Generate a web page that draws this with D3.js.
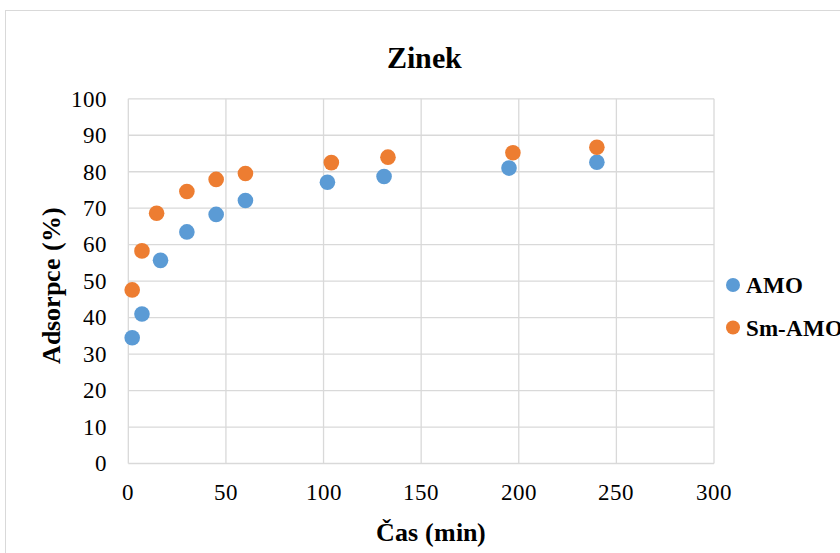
<!DOCTYPE html>
<html><head><meta charset="utf-8"><script src="https://cdn.jsdelivr.net/npm/d3@7"></script>
<style>
  @font-face { font-family: "ChartSerif"; src: local("Liberation Serif"), local("LiberationSerif"); font-weight: normal; }
  @font-face { font-family: "ChartSerif"; src: local("Liberation Serif Bold"), local("LiberationSerif-Bold"); font-weight: bold; }
</style>
</head>
<body style="margin:0">
<svg width="840" height="553"></svg>
<script>
// data
let seriesNames = ["AMO", "Sm-AMO"];
let seriesColors = ["#5B9BD5", "#ED7D31"];
let amoTime = [2, 7, 16.5, 30, 45, 60, 102, 131, 195, 240];
let amoValue = [34.5, 41.0, 55.7, 63.5, 68.3, 72.1, 77.1, 78.7, 81.0, 82.6];
let smTime = [2, 7, 14.5, 30, 45, 60, 104, 133, 197, 240];
let smValue = [47.6, 58.3, 68.6, 74.6, 77.9, 79.5, 82.5, 84.0, 85.2, 86.7];
let xTicks = [0, 50, 100, 150, 200, 250, 300];
let yTicks = [0, 10, 20, 30, 40, 50, 60, 70, 80, 90, 100];

const fam = "ChartSerif, 'Liberation Serif', serif";

var svg = d3.select("svg");

// outer chart border (runs off the right/bottom edges)
svg.append("rect")
    .attr("x", 5.5).attr("y", 10.5)
    .attr("width", 860).attr("height", 580)
    .attr("fill", "none")
    .attr("stroke", "#d9d9d9");

let x = d3.scaleLinear().domain([0, 300]).range([128.3, 714]);
let y = d3.scaleLinear().domain([0, 100]).range([463.5, 98.8]);

// grid
svg.append("g")
    .selectAll("line")
    .data(yTicks)
    .enter().append("line")
    .attr("x1", x(0)).attr("x2", x(300))
    .attr("y1", d => y(d))
    .attr("y2", d => y(d))
    .attr("stroke", "#d9d9d9")
    .attr("stroke-width", 1.3);

svg.append("g")
    .selectAll("line")
    .data(xTicks)
    .enter().append("line")
    .attr("y1", y(0)).attr("y2", y(100))
    .attr("x1", d => x(d))
    .attr("x2", d => x(d))
    .attr("stroke", "#d9d9d9")
    .attr("stroke-width", 1.3);

// tick labels
svg.append("g")
    .selectAll("text")
    .data(yTicks)
    .enter().append("text")
    .attr("x", 107)
    .attr("y", d => y(d) + 7.8)
    .attr("text-anchor", "end")
    .attr("font-size", 22.5)
    .style("font-family", fam)
    .text(d => d);

svg.append("g")
    .selectAll("text")
    .data(xTicks)
    .enter().append("text")
    .attr("x", d => x(d))
    .attr("y", 499.5)
    .attr("text-anchor", "middle")
    .attr("font-size", 22.5)
    .style("font-family", fam)
    .text(d => d);

// points
let series = [
    amoTime.map((t, i) => ({t: t, v: amoValue[i]})),
    smTime.map((t, i) => ({t: t, v: smValue[i]}))
];

series.forEach(function(pts, s){
    svg.append("g")
        .selectAll("circle")
        .data(pts)
        .enter().append("circle")
        .attr("cx", d => x(d.t))
        .attr("cy", d => y(d.v))
        .attr("r", 7.8)
        .attr("fill", seriesColors[s]);
});

// titles
svg.append("text")
    .attr("x", 424).attr("y", 68)
    .attr("text-anchor", "middle")
    .attr("font-size", 30)
    .attr("font-weight", "bold")
    .style("font-family", fam)
    .text("Zinek");

svg.append("text")
    .attr("x", 431).attr("y", 541)
    .attr("text-anchor", "middle")
    .attr("font-size", 25.5)
    .attr("font-weight", "bold")
    .style("font-family", fam)
    .text("Čas (min)");

svg.append("text")
    .attr("transform", "translate(60,285) rotate(-90)")
    .attr("text-anchor", "middle")
    .attr("font-size", 25.5)
    .attr("font-weight", "bold")
    .style("font-family", fam)
    .text("Adsorpce (%)");

// legend
let legend = svg.append("g")
    .selectAll("g")
    .data(seriesNames)
    .enter().append("g")
    .attr("transform", (d, i) => "translate(733," + (285 + i * 42.5) + ")");

legend.append("circle")
    .attr("r", 7)
    .attr("fill", (d, i) => seriesColors[i]);

legend.append("text")
    .attr("x", 13).attr("y", 8.3)
    .attr("font-size", 22.5)
    .attr("font-weight", "bold")
    .style("font-family", fam)
    .text(d => d);
</script>
</body>
</html>
